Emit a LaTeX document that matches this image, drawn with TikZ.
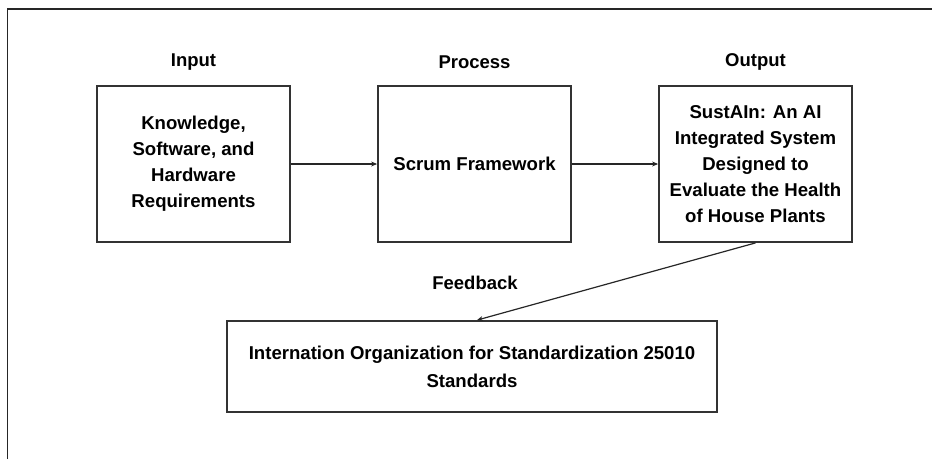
\documentclass[tikz,border=0pt]{standalone}
\usepackage{fontspec}
\setmainfont{Liberation Sans}
\usetikzlibrary{arrows.meta}
\begin{document}
\begin{tikzpicture}[x=1pt,y=-1pt,
  box/.style={draw=black!80,line width=1.8pt,minimum width=193pt,minimum height=156pt,
    align=center,inner sep=0pt,font=\bfseries\fontsize{18.6}{26}\selectfont},
  head/.style={font=\bfseries\fontsize{18.5}{20}\selectfont},
  arr/.style={draw=black!85,line width=1.2pt,-{Stealth[length=6pt,width=5pt]}}]
\useasboundingbox (0,0) rectangle (932,459);
\draw[black!85,line width=1.5pt] (7.5,459) -- (7.5,9) -- (932,9);
\node[head] (hin) at (193.5,62) {Input};
\node[head] (hpr) at (474.5,62) {Process};
\node[head] (hout) at (755.5,62) {Output};
\node[box] (in) at (193.5,164) {Knowledge,\\Software, and\\Hardware\\Requirements};
\node[box] (pr) at (474.5,164) {Scrum Framework};
\node[box] (out) at (755.5,164) {SustAIn: An AI\\Integrated System\\Designed to\\Evaluate the Health\\of House Plants};
\node[box,minimum width=490pt,minimum height=91pt,font=\bfseries\fontsize{18.6}{28}\selectfont] (iso) at (472,366.5) {Internation Organization for Standardization 25010\\Standards};
\draw[arr] (in.east) -- (pr.west);
\draw[arr] (pr.east) -- (out.west);
\coordinate (fbend) at ([xshift=5pt]iso.north);
\draw[arr] (out.south) -- (fbend);
\node[head] (fb) at (475,283) {Feedback};
\end{tikzpicture}
\end{document}
